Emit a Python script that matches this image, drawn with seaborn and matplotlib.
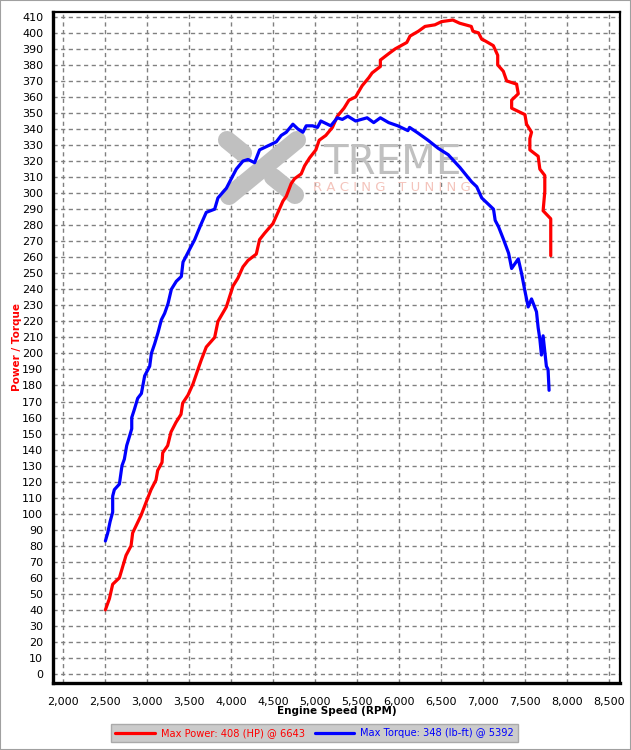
"""
Dyno chart: power and torque against engine speed.
"""

import numpy as np
import pandas as pd
import matplotlib
matplotlib.use("Agg")
import matplotlib.pyplot as plt
from matplotlib.ticker import MultipleLocator, FuncFormatter
from matplotlib.patches import Rectangle
from matplotlib.lines import Line2D
import seaborn as sns

# Power curve (HP)
power_rpm = [2504, 2552, 2591, 2671, 2702, 2750, 2810, 2829, 2889, 2929,
             2988, 3048, 3107, 3127, 3179, 3187, 3246, 3286, 3345, 3405,
             3425, 3488, 3548, 3607, 3647, 3706, 3806, 3845, 3945, 4024,
             4083, 4143, 4203, 4302, 4341, 4401, 4500, 4560, 4619, 4659,
             4718, 4758, 4837, 4877, 4937, 5012, 5051, 5130, 5209, 5268,
             5347, 5406, 5485, 5563, 5642, 5682, 5780, 5780, 5879, 5957,
             6095, 6134, 6233, 6312, 6430, 6509, 6643, 6725, 6863, 6883,
             6949, 6988, 7028, 7126, 7178, 7178, 7245, 7285, 7403, 7423,
             7344, 7344, 7502, 7522, 7581, 7561, 7561, 7660, 7680, 7739,
             7739, 7719, 7810, 7810]
power_hp = [40, 47, 56, 60, 65.5, 74, 80, 88, 94.6, 99,
            107, 115, 121, 127, 132, 138, 142.5, 151, 157, 162,
            169, 174, 181, 190, 196, 204, 210, 220, 229, 242,
            247, 254, 258, 262, 271, 275, 281, 288, 295, 298,
            306, 309, 312, 317, 322, 327, 333, 336, 341, 348,
            353, 358, 360, 367, 372, 375, 379, 383, 387, 390,
            394, 398, 401, 404, 405, 407, 408, 406, 404, 401,
            400, 396, 395, 392, 386, 380, 376, 370, 368, 362,
            358, 353, 349, 343, 338, 334, 327, 323, 315, 311,
            301, 289, 284, 261]

# Torque curve (lb-ft)
torque_rpm = [2504, 2532, 2560, 2591, 2591, 2611, 2671, 2702, 2730, 2758,
              2790, 2818, 2818, 2849, 2889, 2933, 2972, 3032, 3052, 3091,
              3131, 3171, 3210, 3250, 3290, 3349, 3409, 3429, 3469, 3508,
              3568, 3607, 3647, 3706, 3806, 3845, 3945, 4004, 4064, 4143,
              4203, 4282, 4341, 4461, 4540, 4599, 4659, 4738, 4798, 4857,
              4897, 4972, 5031, 5071, 5189, 5268, 5327, 5392, 5485, 5622,
              5701, 5780, 5879, 5988, 6108, 6128, 6228, 6348, 6468, 6588,
              6728, 6868, 6928, 6988, 7128, 7148, 7188, 7248, 7308, 7344,
              7423, 7462, 7502, 7541, 7581, 7640, 7660, 7680, 7699, 7719,
              7758, 7778, 7790]
torque_lbft = [83, 88, 95, 101, 111, 115, 118.5, 130, 134, 142.5,
               148, 153, 160, 165, 172, 175, 186, 192, 200, 206,
               213, 221, 225, 231, 240, 245, 248, 257, 261, 265,
               271, 276, 281, 288, 290, 297, 303, 309, 315, 320,
               321, 319, 327, 330, 332, 336, 338, 343, 340, 338,
               342, 342, 341, 345, 342, 347, 346, 348, 345, 347,
               344, 347, 344, 342, 339, 341, 337.5, 333, 328, 324,
               316, 307, 304, 297, 290, 283, 279, 271, 262.5, 253,
               259, 250, 239, 229, 234, 226, 216, 209, 199, 211,
               192, 190, 177]

legend_labels = ["Max Power: 408 (HP) @ 6643", "Max Torque: 348 (lb-ft) @ 5392"]
x_ticks = list(range(2000, 8501, 500))
y_ticks = list(range(0, 411, 10))

W, H = 631, 750


def figFrac(px, py):
    return px / W, 1 - py / H


def axFrac(px, py):
    # axes spans pixels x 53..620, y 12..683
    return (px - 53) / 567, (683 - py) / 671


sns.set_style("white")
plt.rcParams['font.family'] = ['DejaVu Sans']

fig = plt.figure(figsize=(W / 100, H / 100), dpi=100)
ax = fig.add_axes([53 / W, 1 - 683 / H, 567 / W, 671 / H])

powerDf = pd.DataFrame({'rpm': power_rpm, 'value': power_hp})
torqueDf = pd.DataFrame({'rpm': torque_rpm, 'value': torque_lbft})

sns.lineplot(data=powerDf, x='rpm', y='value', sort=False, estimator=None,
             color='#ff0000', linewidth=2.3, ax=ax, label=legend_labels[0], zorder=4)
sns.lineplot(data=torqueDf, x='rpm', y='value', sort=False, estimator=None,
             color='#0000ff', linewidth=2.3, ax=ax, label=legend_labels[1], zorder=4)

# Watermark logo behind the curves: a stylised X plus the company name
logoStrokes = [((227, 140), (243, 153)),
               ((297, 140), (229, 196)),
               ((273, 177), (295, 195))]
for (x0, y0), (x1, y1) in logoStrokes:
    a0 = axFrac(x0, y0)
    a1 = axFrac(x1, y1)
    ax.add_line(Line2D([a0[0], a1[0]], [a0[1], a1[1]], transform=ax.transAxes,
                       color='#c0c0c0', linewidth=13, solid_capstyle='round', zorder=1))
ax.text(*axFrac(392, 163), "TREME", transform=ax.transAxes, ha='center', va='center',
        fontsize=29, color='#c0c0c0', zorder=1)
ax.text(*axFrac(392, 188), "R A C I N G   T U N I N G", transform=ax.transAxes,
        ha='center', va='center', fontsize=9.5, color='#f4c4bc', zorder=1)

ax.set_xlim(1880, 8635)
ax.set_ylim(-5.6, 413)
ax.set_xticks(x_ticks)
ax.set_yticks(y_ticks)
ax.xaxis.set_minor_locator(MultipleLocator(100))
ax.yaxis.set_minor_locator(MultipleLocator(2))
ax.xaxis.set_major_formatter(FuncFormatter(lambda v, p: f'{v:,.0f}'))
ax.tick_params(axis='both', which='major', labelsize=8, length=4, width=1,
               direction='out', colors='black', pad=3)
ax.tick_params(axis='both', which='minor', length=2, width=1, direction='out')
ax.tick_params(axis='x', which='major', pad=6)

ax.grid(True, which='major', linestyle=(0, (3, 2.5)), color='#808080', linewidth=1)
ax.set_axisbelow(True)

for side in ['left', 'bottom']:
    ax.spines[side].set_linewidth(2.4)
for side in ['top', 'right']:
    ax.spines[side].set_linewidth(1.6)
for s in ax.spines.values():
    s.set_color('black')

ax.set_xlabel('')
ax.set_ylabel('')
fig.text(*figFrac(337, 711), 'Engine Speed (RPM)', ha='center', va='center',
         fontsize=7.5, fontweight='bold', color='black')
fig.text(*figFrac(17, 347), 'Power / Torque', ha='center', va='center',
         rotation=90, fontsize=7.5, fontweight='bold', color='#ff0000')

ax.get_legend().remove()
handles, labels = ax.get_legend_handles_labels()
leg = fig.legend(handles, labels, loc='center', bbox_to_anchor=figFrac(314.5, 733),
                 ncol=2, fontsize=7.1, frameon=True, fancybox=False,
                 facecolor='#cbcbcb', edgecolor='#aaaaaa', handlelength=4.0,
                 handletextpad=0.6, columnspacing=1.0, borderpad=0.4,
                 borderaxespad=0, labelcolor='linecolor')
leg.get_frame().set_alpha(1)

# Thin grey frame round the picture
fig.patches.append(Rectangle((0, 0), 1, 1, transform=fig.transFigure, fill=False,
                             edgecolor='#a0a0a0', linewidth=1.5))

fig.savefig('out.png', dpi=100)
